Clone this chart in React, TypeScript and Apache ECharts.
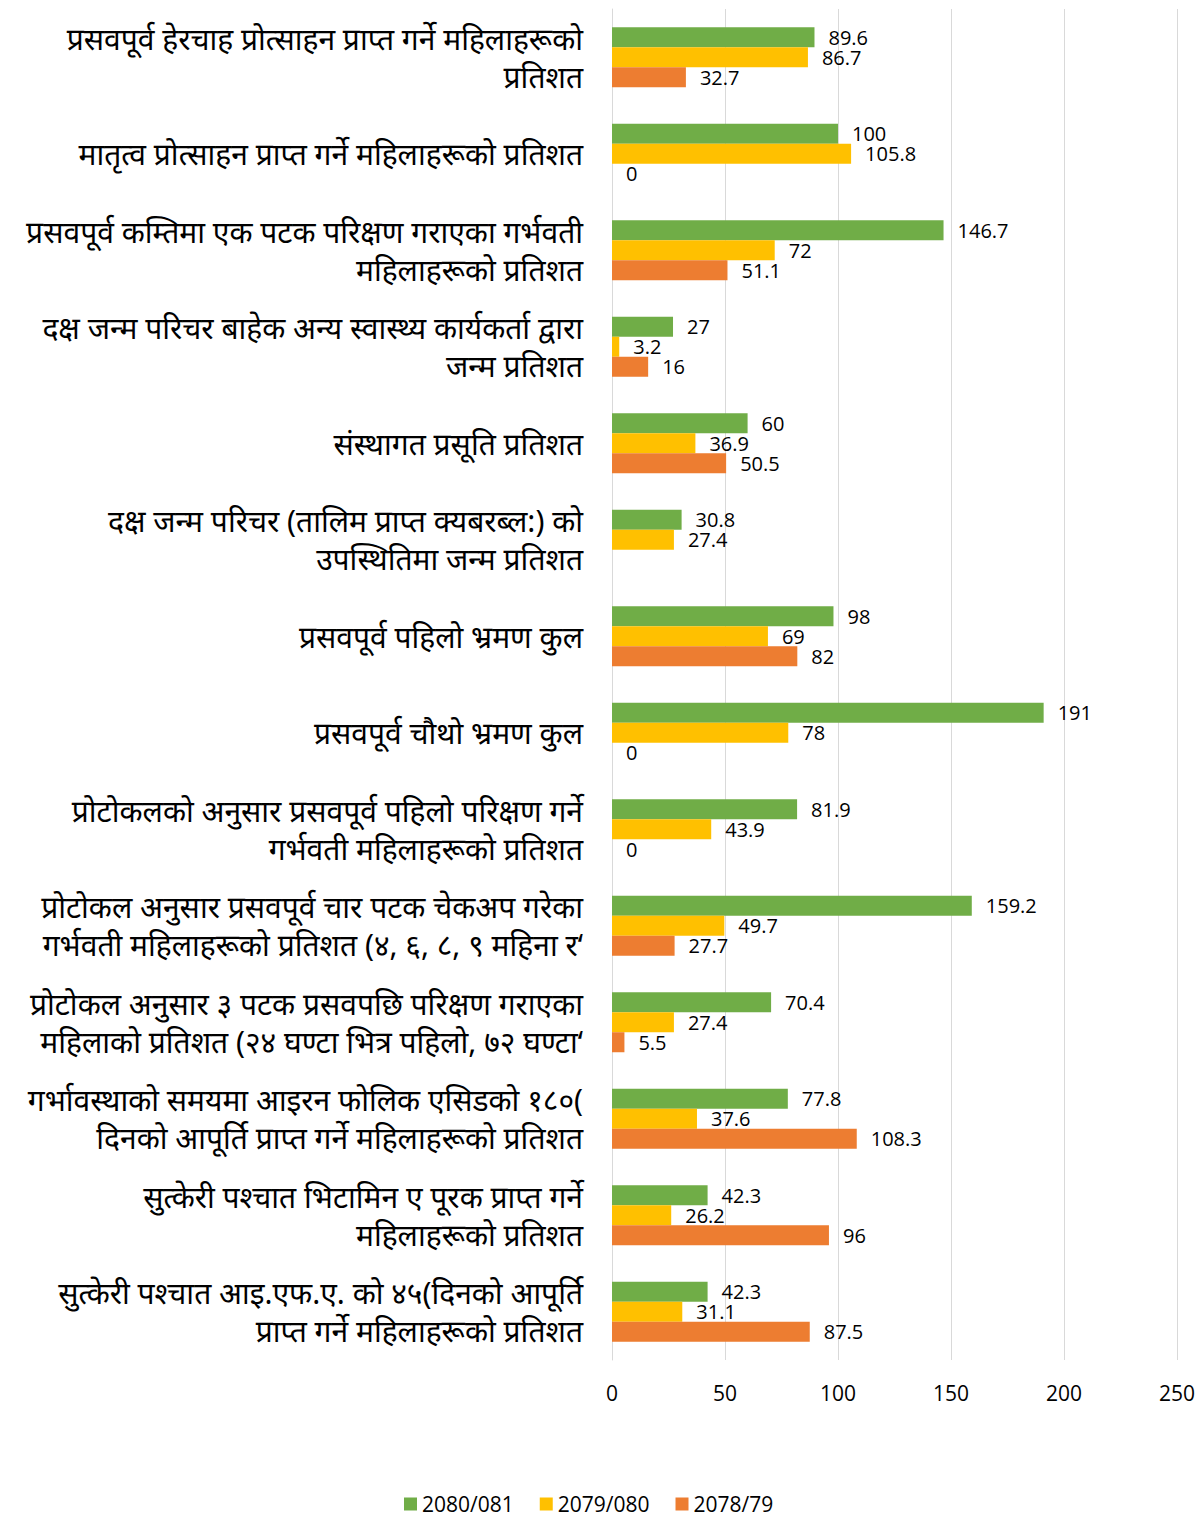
import React, { useEffect, useRef } from "react";
import * as echarts from "echarts";

const categories: string[] = [
  "प्रसवपूर्व हेरचाह प्रोत्साहन प्राप्त गर्ने महिलाहरूको\nप्रतिशत",
  "मातृत्व प्रोत्साहन प्राप्त गर्ने महिलाहरूको प्रतिशत",
  "प्रसवपूर्व कम्तिमा एक पटक परिक्षण गराएका गर्भवती\nमहिलाहरूको प्रतिशत",
  "दक्ष जन्म परिचर बाहेक अन्य स्वास्थ्य कार्यकर्ता द्वारा\nजन्म प्रतिशत",
  "संस्थागत प्रसूति प्रतिशत",
  "दक्ष जन्म परिचर (तालिम प्राप्त क्यबरब्ल:) को\nउपस्थितिमा जन्म प्रतिशत",
  "प्रसवपूर्व पहिलो भ्रमण कुल",
  "प्रसवपूर्व चौथो भ्रमण कुल",
  "प्रोटोकलको अनुसार प्रसवपूर्व पहिलो परिक्षण गर्ने\nगर्भवती महिलाहरूको प्रतिशत",
  "प्रोटोकल अनुसार प्रसवपूर्व चार पटक चेकअप गरेका\nगर्भवती महिलाहरूको प्रतिशत (४, ६, ८, ९ महिना र‘",
  "प्रोटोकल अनुसार ३ पटक प्रसवपछि परिक्षण गराएका\nमहिलाको प्रतिशत (२४ घण्टा भित्र पहिलो, ७२ घण्टा‘",
  "गर्भावस्थाको समयमा आइरन फोलिक एसिडको १८०(\nदिनको आपूर्ति प्राप्त गर्ने महिलाहरूको प्रतिशत",
  "सुत्केरी पश्चात भिटामिन ए पूरक प्राप्त गर्ने\nमहिलाहरूको प्रतिशत",
  "सुत्केरी पश्चात आइ.एफ.ए. को ४५(दिनको आपूर्ति\nप्राप्त गर्ने महिलाहरूको प्रतिशत",
];

const seriesNames: string[] = ["2080/081", "2079/080", "2078/79"];

const values2080: (number | null)[] = [89.6, 100, 146.7, 27, 60, 30.8, 98, 191, 81.9, 159.2, 70.4, 77.8, 42.3, 42.3];
const values2079: (number | null)[] = [86.7, 105.8, 72, 3.2, 36.9, 27.4, 69, 78, 43.9, 49.7, 27.4, 37.6, 26.2, 31.1];
const values2078: (number | null)[] = [32.7, 0, 51.1, 16, 50.5, null, 82, 0, 0, 27.7, 5.5, 108.3, 96, 87.5];

const xTicks = { min: 0, max: 250, interval: 50 };

const colors = ["#70ad47", "#ffc000", "#ed7d31"];

export default function App() {
  const ref = useRef<HTMLDivElement>(null);
  useEffect(() => {
    if (!ref.current) return;
    const chart = echarts.init(ref.current, undefined, { renderer: "svg" });
    const dataSets = [values2080, values2079, values2078];
    const labelFont = "'Open Sans', sans-serif";
    chart.setOption({
      animation: false,
      backgroundColor: "#ffffff",
      grid: { left: 612, right: 21, top: 9, bottom: 157, containLabel: false },
      legend: {
        top: 1493,
        left: 404,
        padding: 0,
        itemWidth: 13,
        itemHeight: 13,
        itemGap: 26,
        icon: "rect",
        textStyle: { fontSize: 21, lineHeight: 22, color: "#000", fontFamily: labelFont },
        data: seriesNames,
      },
      xAxis: {
        type: "value",
        min: xTicks.min,
        max: xTicks.max,
        interval: xTicks.interval,
        axisLine: { show: false },
        axisTick: { show: false },
        splitLine: { lineStyle: { color: "#d9d9d9", width: 1 } },
        axisLabel: { fontSize: 21, color: "#000", margin: 22, fontFamily: labelFont },
      },
      yAxis: {
        type: "category",
        inverse: true,
        data: categories,
        axisLine: { show: true, lineStyle: { color: "#d9d9d9" } },
        axisTick: { show: false },
        axisLabel: {
          fontSize: 30,
          color: "#000",
          margin: 29,
          lineHeight: 38,
          align: "right",
          fontFamily: "'Noto Sans', sans-serif",
        },
      },
      series: seriesNames.map((name, i) => ({
        name,
        type: "bar",
        data: dataSets[i],
        barWidth: 20,
        barGap: "0%",
        itemStyle: { color: colors[i] },
        label: {
          show: true,
          position: "right",
          distance: 14,
          fontSize: 20,
          lineHeight: 19,
          color: "#000",
          fontFamily: labelFont,
        },
      })),
    });
    return () => chart.dispose();
  }, []);
  return <div ref={ref} style={{ width: 1198, height: 1517, position: "absolute", left: 0, top: 0 }} />;
}
